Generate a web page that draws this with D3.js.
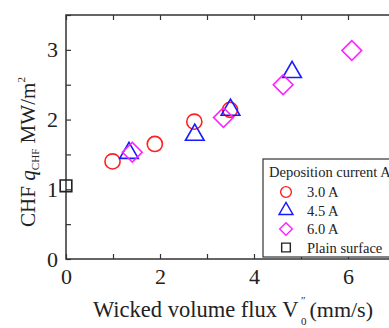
<!DOCTYPE html>
<html>
<head>
<meta charset="utf-8">
<script src="https://cdn.jsdelivr.net/npm/d3@7"></script>
<style>
  body { margin: 0; background: #fff; }
  svg text { font-family: "Liberation Serif", "Times New Roman", serif !important; fill: #222; }
</style>
</head>
<body>
<script>
// Data
var series = ['3.0 A', '4.5 A', '6.0 A', 'Plain surface'];
var fluxA30 = [0.99, 1.89, 2.73, 3.49];
var chfA30 = [1.40, 1.65, 1.97, 2.14];
var fluxA45 = [1.34, 2.74, 3.50, 4.81];
var chfA45 = [1.52, 1.78, 2.14, 2.68];
var fluxA60 = [1.41, 3.35, 4.62, 6.08];
var chfA60 = [1.53, 2.03, 2.50, 2.99];
var fluxPlain = [0];
var chfPlain = [1.05];
var xTicks = [0, 2, 4, 6];
var yTicks = [0, 1, 2, 3];

var width = 389, height = 328;
var margin = { top: 15, left: 66, bottom: 69 };

var x = d3.scaleLinear().domain([0, 7]).range([margin.left, 395]);
var y = d3.scaleLinear().domain([0, 3.5]).range([height - margin.bottom, margin.top]);

var svg = d3.select('body').append('svg')
    .attr('width', width)
    .attr('height', height);

var axisColor = '#333';

// frame
svg.append('rect')
    .attr('x', x(0)).attr('y', y(3.5))
    .attr('width', x(7) - x(0)).attr('height', y(0) - y(3.5))
    .attr('fill', 'none').attr('stroke', axisColor).attr('stroke-width', 1.5);

// axes with inward ticks
function styleAxis(g) {
    g.attr('font-family', null);
    g.select('.domain').remove();
    g.selectAll('.tick line').attr('stroke', axisColor).attr('stroke-width', 1.2);
    g.selectAll('.tick text').attr('font-size', 22).attr('fill', '#222');
}

svg.append('g')
    .attr('transform', 'translate(0,' + y(0) + ')')
    .call(d3.axisBottom(x).tickValues(d3.range(0, 7.01, 1)).tickSizeInner(-5).tickSizeOuter(0)
        .tickPadding(9).tickFormat(function (d) { return xTicks.indexOf(d) >= 0 ? d : ''; }))
    .call(styleAxis);

svg.append('g')
    .attr('transform', 'translate(0,' + y(3.5) + ')')
    .call(d3.axisTop(x).tickValues(d3.range(0, 7.01, 1)).tickSizeInner(-5).tickSizeOuter(0)
        .tickFormat(''))
    .call(styleAxis);

svg.append('g')
    .attr('transform', 'translate(' + x(0) + ',0)')
    .call(d3.axisLeft(y).tickValues(d3.range(0, 3.51, 0.5)).tickSizeInner(-5).tickSizeOuter(0)
        .tickPadding(8).tickFormat(function (d) { return yTicks.indexOf(d) >= 0 ? d : ''; }))
    .call(styleAxis);

// x axis title: V with double prime above and subscript 0 below
svg.append('text')
    .attr('x', 93).attr('y', 317)
    .attr('font-size', 22.5)
    .text('Wicked volume flux V');
svg.append('text')
    .attr('x', 301).attr('y', 304)
    .attr('font-size', 11)
    .text('\u2033');
svg.append('text')
    .attr('x', 301).attr('y', 325)
    .attr('font-size', 11)
    .text('0');
svg.append('text')
    .attr('x', 373).attr('y', 317)
    .attr('text-anchor', 'end')
    .attr('font-size', 22)
    .text('(mm/s)');

// y axis title
var yt = svg.append('text')
    .attr('transform', 'translate(35,152) rotate(-90)')
    .attr('text-anchor', 'middle')
    .attr('font-size', 21);
yt.append('tspan').text('CHF ');
yt.append('tspan').attr('font-style', 'italic').text('q');
yt.append('tspan').attr('font-size', 11).attr('dy', 4).text('CHF');
yt.append('tspan').attr('dy', -4).text(' MW/m');
yt.append('tspan').attr('font-size', 11).attr('dy', -10).text('2');
yt.attr('textLength', 150).attr('lengthAdjust', 'spacingAndGlyphs');

// markers
var sym = {
    circle: d3.symbol().type(d3.symbolCircle).size(180),
    triangle: d3.symbol().type(d3.symbolTriangle).size(150),
    diamond: d3.symbol().type(d3.symbolSquare).size(195),
    square: d3.symbol().type(d3.symbolSquare).size(135)
};

function drawSet(xs, ys, shape, color, rot) {
    svg.append('g').selectAll('path')
        .data(xs.map(function (d, i) { return [d, ys[i]]; }))
        .join('path')
        .attr('d', sym[shape])
        .attr('transform', function (d) {
            return 'translate(' + x(d[0]) + ',' + y(d[1]) + ')' + (rot ? ' rotate(' + rot + ')' : '');
        })
        .attr('fill', 'none')
        .attr('stroke', color)
        .attr('stroke-width', 1.6);
}

drawSet(fluxA30, chfA30, 'circle', '#ff2020');
drawSet(fluxA45, chfA45, 'triangle', '#1a1aff');
drawSet(fluxA60, chfA60, 'diamond', '#ff22ff', 45);
drawSet(fluxPlain, chfPlain, 'square', '#222');

// legend
var lg = svg.append('g').attr('transform', 'translate(263,159)');
lg.append('rect')
    .attr('width', 140).attr('height', 98)
    .attr('fill', '#fff').attr('stroke', axisColor).attr('stroke-width', 1.2);
lg.append('text').attr('x', 6).attr('y', 18).attr('font-size', 14.5).text('Deposition current A');

var legendItems = [
    { label: series[0], shape: 'circle', color: '#ff2020', rot: 0 },
    { label: series[1], shape: 'triangle', color: '#1a1aff', rot: 0 },
    { label: series[2], shape: 'diamond', color: '#ff22ff', rot: 45 },
    { label: series[3], shape: 'square', color: '#222', rot: 0 }
];
var legendSym = {
    circle: d3.symbol().type(d3.symbolCircle).size(90),
    triangle: d3.symbol().type(d3.symbolTriangle).size(85),
    diamond: d3.symbol().type(d3.symbolSquare).size(80),
    square: d3.symbol().type(d3.symbolSquare).size(75)
};
legendItems.forEach(function (d, i) {
    var cy = 33 + i * 18.5;
    lg.append('path')
        .attr('d', legendSym[d.shape])
        .attr('transform', 'translate(23,' + cy + ')' + (d.rot ? ' rotate(' + d.rot + ')' : ''))
        .attr('fill', 'none').attr('stroke', d.color).attr('stroke-width', 1.4);
    lg.append('text').attr('x', 44).attr('y', cy + 5).attr('font-size', 14.5).text(d.label);
});
</script>
</body>
</html>
